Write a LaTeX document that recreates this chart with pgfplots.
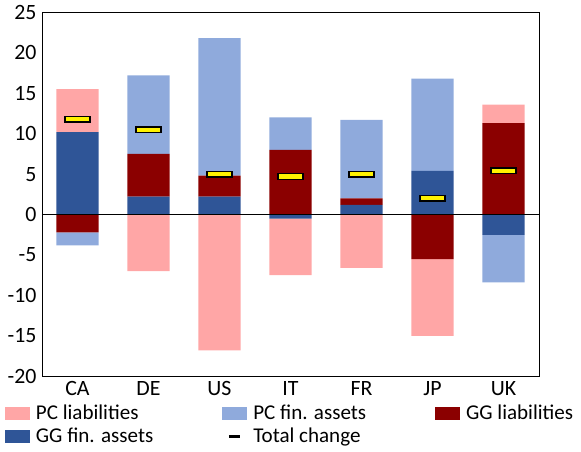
\documentclass[border=0pt]{standalone}
\usepackage{pgfplots}
\pgfplotsset{compat=1.18}
\usepackage{fontspec}
\setmainfont{Carlito}
\definecolor{pcl}{HTML}{FFA6A6}
\definecolor{pcf}{HTML}{8FAADC}
\definecolor{ggl}{HTML}{8B0000}
\definecolor{ggf}{HTML}{2F5597}
\pgfdeclareplotmark{tot}{\pgfpathrectangle{\pgfpoint{-8pt}{-1.8pt}}{\pgfpoint{16pt}{3.6pt}}\pgfusepathqfillstroke}
\begin{document}
\begin{tikzpicture}
\begin{axis}[at={(0,0)},anchor=origin,width=11.2cm,height=8.2cm,scale only axis,
 xmin=-0.5,xmax=6.5,ymin=-20,ymax=25,
 ybar stacked,bar width=27pt,
 xtick={0,...,6},xticklabels={CA,DE,US,IT,FR,JP,UK},
 ytick={-20,-15,...,25},tick style={draw=none},
 tick label style={font=\fontsize{14}{16}\selectfont},
 /pgf/number format/assume math mode=true,
 legend style={at={(0.5,-0.06)},anchor=north,draw=none,legend columns=3,
   font=\fontsize{13.5}{15}\selectfont,row sep=0pt,
   /tikz/every odd column/.append style={column sep=2pt},
   /tikz/every even column/.append style={column sep=42pt}},
 legend cell align=left,
 legend image code/.code={\fill[#1](0cm,-0.13cm) rectangle (0.55cm,0.13cm);}]
\addplot[fill=ggf,draw=none,forget plot] coordinates {(0,10.2)(1,2.2)(2,2.2)(3,0)(4,1.2)(5,5.4)(6,0)};
\addplot[fill=ggl,draw=none,forget plot] coordinates {(0,0)(1,5.3)(2,2.6)(3,8)(4,0.8)(5,0)(6,11.3)};
\addplot[fill=pcf,draw=none,forget plot] coordinates {(0,0)(1,9.7)(2,17)(3,4)(4,9.7)(5,11.4)(6,0)};
\addplot[fill=pcl,draw=none,forget plot] coordinates {(0,5.3)(1,0)(2,0)(3,0)(4,0)(5,0)(6,2.3)};
\addlegendimage{pcl}\addlegendentry{PC liabilities}
\addlegendimage{pcf}\addlegendentry{PC fin. assets}
\addlegendimage{ggl}\addlegendentry{GG liabilities}
\addlegendimage{ggf}\addlegendentry{GG fin. assets}
\addlegendimage{legend image code/.code={\draw[black,line width=1.5pt](0.15cm,0)--(0.4cm,0);}}\addlegendentry{Total change}
\end{axis}
\begin{axis}[at={(0,0)},anchor=origin,width=11.2cm,height=8.2cm,scale only axis,
 xmin=-0.5,xmax=6.5,ymin=-20,ymax=25,
 ybar stacked,bar width=27pt,axis lines=none,ticks=none]
\addplot[fill=ggf,draw=none] coordinates {(0,0)(1,0)(2,0)(3,-0.5)(4,0)(5,0)(6,-2.5)};
\addplot[fill=ggl,draw=none] coordinates {(0,-2.2)(1,0)(2,0)(3,0)(4,0)(5,-5.5)(6,0)};
\addplot[fill=pcf,draw=none] coordinates {(0,-1.6)(1,0)(2,0)(3,0)(4,0)(5,0)(6,-5.9)};
\addplot[fill=pcl,draw=none] coordinates {(0,0)(1,-7)(2,-16.8)(3,-7)(4,-6.6)(5,-9.5)(6,0)};
\end{axis}
\begin{axis}[at={(0,0)},anchor=origin,width=11.2cm,height=8.2cm,scale only axis,
 xmin=-0.5,xmax=6.5,ymin=-20,ymax=25,axis lines=none,ticks=none]
\draw[black,line width=1pt] (axis cs:-0.5,0) -- (axis cs:6.5,0);
\addplot[only marks,mark=tot,mark options={fill=yellow,draw=black,line width=1pt}]
 coordinates {(0,11.8)(1,10.5)(2,5)(3,4.7)(4,5)(5,2)(6,5.4)};
\end{axis}
\end{tikzpicture}
\end{document}
